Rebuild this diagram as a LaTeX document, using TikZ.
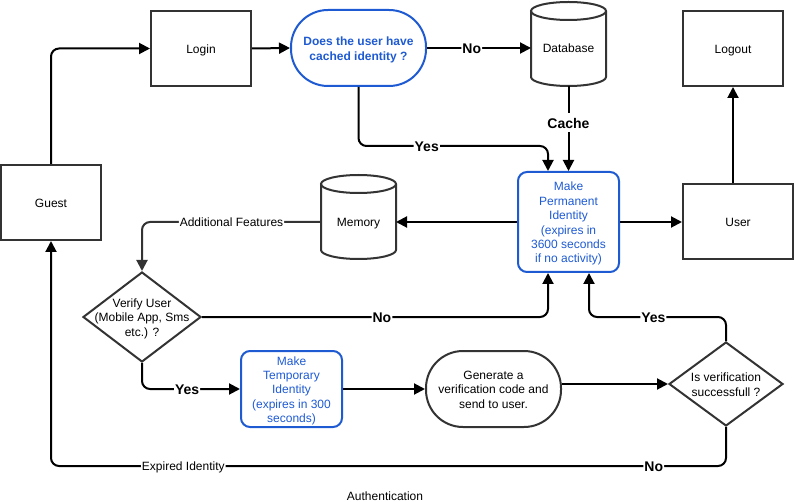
\documentclass[tikz,border=0pt]{standalone}
\usepackage{fontspec}
\setmainfont{Liberation Sans}
\usetikzlibrary{arrows.meta,shapes.geometric,calc}
\definecolor{dblue}{RGB}{30,90,210}
\definecolor{dgray}{RGB}{51,51,51}
\tikzset{
  every node/.style={font=\fontsize{12}{14.4}\selectfont, text height=12.06pt, text depth=2.34pt},
  two/.style={text height=26.46pt},
  three/.style={text height=40.86pt},
  five/.style={text height=69.66pt},
  six/.style={text height=84.06pt},
  box/.style={draw=dgray, line width=2pt, minimum width=100pt, minimum height=75pt, inner sep=0pt, align=center},
  bluebox/.style={draw=dblue, text=dblue, line width=2pt, rounded corners=9pt, align=center, inner sep=0pt, minimum width=101pt},
  stadium/.style={line width=2pt, rounded corners=37pt, minimum width=135pt, minimum height=76pt, align=center, inner sep=0pt},
  dia/.style={diamond, draw=dgray, line width=2pt, inner sep=0pt},
  cylbox/.style={minimum width=75pt, minimum height=84pt, inner sep=0pt, outer sep=0pt},
  conn/.style={line width=2pt, -{Triangle[length=11pt,width=11pt]}, rounded corners=8pt},
  lbl/.style={fill=white, inner sep=1pt, font=\bfseries\fontsize{14}{16.8}\selectfont, text height=14.07pt, text depth=2.73pt},
  lbln/.style={fill=white, inner sep=1pt},
}
\newcommand\cylshape[1]{%
  \draw[dgray,line width=2pt] ($(#1.north west)+(0,9)$) -- ($(#1.south west)+(0,-9)$)
     arc[start angle=180,end angle=360,x radius=37.5pt,y radius=9pt] -- ($(#1.north east)+(0,9)$);
  \draw[dgray,line width=2pt] ($(#1.north)+(0,9)$) ellipse[x radius=37.5pt,y radius=9pt];}
\begin{document}
\begin{tikzpicture}[x=1pt,y=-1pt]
\useasboundingbox (0,0) rectangle (794,502);
% nodes
\node[box] (guest) at (51,202.5) {Guest};
\node[box] (login) at (201,48.5) {Login};
\node[stadium, two, draw=dblue, text=dblue, font=\bfseries\fontsize{12}{14.4}\selectfont] (cached) at (358.5,48) {Does the user have\\cached identity ?};
\node[cylbox, label={[yshift=-4pt]center:Database}] (db) at (568.5,44) {};
\cylshape{db}
\node[box] (logout) at (733,48.5) {Logout};
\node[box, minimum width=110pt] (user) at (738,221.5) {User};
\node[bluebox, six, minimum height=100pt] (perm) at (568.5,222) {Make\\Permanent\\Identity\\(expires in\\3600 seconds\\if no activity)};
\node[cylbox, label={[yshift=-5pt]center:Memory}] (memory) at (358.5,217) {};
\cylshape{memory}
\node[dia, minimum width=118pt, minimum height=90pt, label={[align=center,three]center:{Verify User\\(Mobile App, Sms\\etc.) ?}}] (verify) at (142,317) {};
\node[bluebox, five, minimum height=76pt] (temp) at (291.5,389) {Make\\Temporary\\Identity\\(expires in 300\\seconds)};
\node[stadium, three, draw=dgray] (gen) at (493.5,389) {Generate a\\verification code and\\send to user.};
\node[dia, minimum width=114pt, minimum height=84pt, label={[align=center,two]center:{Is verification\\successfull ?}}] (isver) at (726,384) {};
\node (title) at (385,496) {Authentication};
% helper coordinates
\coordinate (pin1) at ([xshift=-20.5pt]perm.north);
\coordinate (pin2) at ([xshift=-20.5pt]perm.south);
\coordinate (pin3) at ([xshift=20.5pt]perm.south);
\coordinate (ya) at (0,146);
\coordinate (yc) at (0,317);
\coordinate (yd) at (0,466);
% connectors
\draw[conn] (guest.north) |- (login.west);
\draw[conn] (login.east) -- (cached.west);
\draw[conn] (cached.east) -- node[lbl,pos=0.43]{No} (cached.east -| db.west);
\draw[conn] (db.south) -- node[lbl,pos=0.43]{Cache} (perm.north);
\draw[conn] (cached.south) -- (cached.south |- ya) -- node[lbl,pos=0.36]{Yes} (pin1 |- ya) -- (pin1);
\draw[conn] (user.north -| logout.south) -- (logout.south);
\draw[conn] (perm.east) -- (perm.east -| user.west);
\draw[conn] (perm.west) -- (perm.west -| memory.east);
\draw[conn, draw=dgray] (perm.west -| memory.west) -| node[lbln,pos=0.25]{Additional Features} (verify.north);
\draw[conn] (verify.east) -| node[lbl,pos=0.26]{No} (pin2);
\draw[conn] (verify.south) |- node[lbl,pos=0.73]{Yes} (temp.west);
\draw[conn] (temp.east) -- (gen.west);
\draw[conn] (gen.east |- isver.west) -- (isver.west);
\draw[conn] (isver.north) -- (isver.north |- yc) -- node[lbl,pos=0.53]{Yes} (pin3 |- yc) -- (pin3);
\draw[conn] (isver.south) -- (isver.south |- yd) -- node[lbl,pos=0.107]{No} node[lbln,pos=0.804]{Expired Identity} (guest.south |- yd) -- (guest.south);
\end{tikzpicture}
\end{document}
